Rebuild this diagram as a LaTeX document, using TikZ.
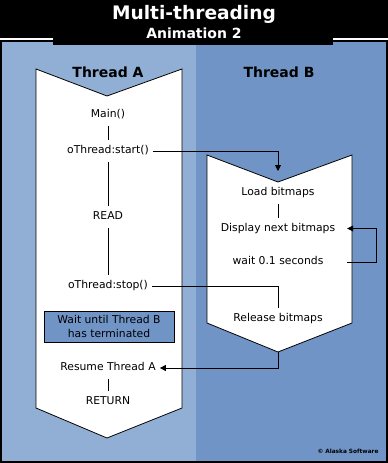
\documentclass[tikz,border=0pt]{standalone}
\usepackage{fontspec}
\setmainfont{DejaVu Sans}
\usetikzlibrary{arrows.meta}
\definecolor{laneA}{RGB}{145,175,212}
\definecolor{laneB}{RGB}{112,148,198}

\begin{document}
\begin{tikzpicture}[
  x=1pt, y=-1pt,
  lane/.style={draw=black, line width=0.8pt, fill=white},
  txt/.style={font=\fontsize{10.8}{13}\selectfont, inner xsep=4pt,
    inner ysep=5.5pt, text height=8pt, text depth=2.5pt},
  wide/.style={txt, minimum width=138pt},
  head/.style={font=\bfseries\fontsize{14}{16}\selectfont, anchor=base},
  waitbox/.style={draw=black, line width=0.8pt, fill=laneB, align=center,
    minimum width=130pt, minimum height=31pt, inner sep=0pt,
    font=\fontsize{10.8}{14}\selectfont},
  link/.style={line width=0.8pt},
  arrow/.style={link, -{Triangle[length=6pt, width=6pt]}},
]
\useasboundingbox (0,0) rectangle (388,463);

% Background and title tab
\fill[black] (0,0) rectangle (388,463);
\fill[laneA] (2,42) rectangle (196,461);
\fill[laneB] (196,42) rectangle (386,461);
\fill[black] (53,42) rectangle (333,45);
\fill[white] (0,38) rectangle (53,39.8);
\fill[white] (333,38) rectangle (388,39.8);

\node[font=\bfseries\fontsize{18.6}{20}\selectfont, text=white, anchor=base]
  (title) at (194,19.3) {Multi-threading};
\node[font=\bfseries\fontsize{14}{16}\selectfont, text=white, anchor=base]
  (subtitle) at (194,38.8) {Animation 2};

% Lane headers
\node[head] (headA) at (108,77.3) {Thread A};
\node[head] (headB) at (279,77.3) {Thread B};

% Thread chevrons
\draw[lane] (36,69) -- (107,96) -- (182,69) -- (182,408) -- (107,438)
  -- (36,408) -- cycle;
\draw[lane] (207,155) -- (278,182) -- (352,155) -- (352,323) -- (278,352)
  -- (207,323) -- cycle;
\coordinate (loadin) at (278,171);
\coordinate (tBtip) at (278,352);

% Thread A steps
\node[txt] (main) at (108,115) {Main()};
\node[txt] (start) at (108,151) {oThread:start()};
\node[txt] (read) at (108,217) {READ};
\node[txt] (stop) at (108,286) {oThread:stop()};
\node[waitbox] (wait2) at (109,326.5) {Wait until Thread B\\has terminated};
\node[txt] (resume) at (108,368) {Resume Thread A};
\node[txt] (ret) at (108,401.5) {RETURN};

% Thread B steps
\node[txt] (load) at (278,193) {Load bitmaps};
\node[wide] (disp) at (278,228.5) {Display next bitmaps};
\node[wide] (pause) at (278,262) {wait 0.1 seconds};
\node[txt] (rel) at (278,319) {Release bitmaps};

\draw[link] (main) -- (start);
\draw[link] (start) -- (read);
\draw[link] (read) -- (stop);
\draw[link] (resume) -- (ret);
\draw[link] (load) -- (disp);

% Cross-thread connectors
\draw[arrow] (start.east) -| (loadin);
\draw[arrow] (pause.east) -- ++(29,0) |- (disp.east);
\draw[link] (stop.east) -| (rel.north);
\draw[arrow] (tBtip) |- (resume.east);

\node[font=\bfseries\fontsize{5.8}{7}\selectfont] (copy) at (348,451)
  {\textcopyright{} Alaska Software};
\end{tikzpicture}
\end{document}
